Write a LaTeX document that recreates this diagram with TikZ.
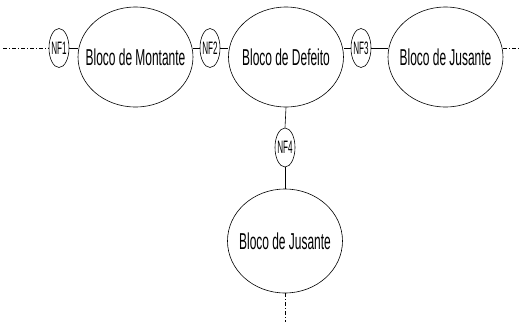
\documentclass[tikz,border=0pt]{standalone}
\usepackage{fontspec}
\usepackage{tikz}
\usetikzlibrary{shapes,positioning,calc}
\newfontfamily\blockfont[FakeStretch=0.52]{Liberation Sans}
\newfontfamily\nffont[FakeStretch=0.45]{Liberation Sans}
\newcommand{\tightlbl}[1]{\makebox[0pt][c]{#1}}

\begin{document}
\begin{tikzpicture}[
    x=1pt, y=-1pt,
    bloco/.style={ellipse, draw, line width=0.6pt, minimum width=115pt, minimum height=100pt, inner sep=0pt, font=\blockfont\fontsize{23}{25}\selectfont},
    nf/.style={ellipse, draw, line width=0.6pt, minimum width=20pt, minimum height=39pt, inner sep=0pt, font=\nffont\fontsize{18}{20}\selectfont},
    link/.style={line width=0.6pt},
    open/.style={line width=0.6pt, dash pattern=on 4pt off 2pt on 1pt off 2pt}
]
    \useasboundingbox (0,0) rectangle (520,322);

    % Blocks
    \node[bloco] (montante) at (135.5,57) {\tightlbl{Bloco de Montante}};
    \node[bloco] (defeito) at (286,57) {\tightlbl{Bloco de Defeito}};
    \node[bloco] (jusante) at (445.5,57) {\tightlbl{Bloco de Jusante}};
    \node[bloco, minimum height=104pt] (jusante2) at (285,241) {\tightlbl{Bloco de Jusante}};

    % Fault nodes
    \node[nf] (nf1) at (59,48) {\tightlbl{NF1}};
    \node[nf] (nf2) at (210,48) {\tightlbl{NF2}};
    \node[nf] (nf3) at (361,48) {\tightlbl{NF3}};
    \node[nf] (nf4) at (285,147.5) {\tightlbl{NF4}};

    % Open ends
    \coordinate (left) at (3,48);
    \coordinate (right) at (520,48);
    \coordinate (bottom) at (285,322);

    % Connections
    \draw[open] (left) -- (nf1.west);
    \draw[link] (nf1.east) -- (nf1.east -| montante.west);
    \draw[link] (nf2.west) -- (nf2.west -| montante.east);
    \draw[link] (nf2.east) -- (nf2.east -| defeito.west);
    \draw[link] (nf3.west) -- (nf3.west -| defeito.east);
    \draw[link] (nf3.east) -- (nf3.east -| jusante.west);
    \draw[open] (nf3 -| jusante.east) -- (right);
    \draw[link] (defeito.south) -- (nf4.north);
    \draw[link] (nf4.south) -- (jusante2.north);
    \draw[open] (jusante2.south) -- (bottom);
\end{tikzpicture}
\end{document}
